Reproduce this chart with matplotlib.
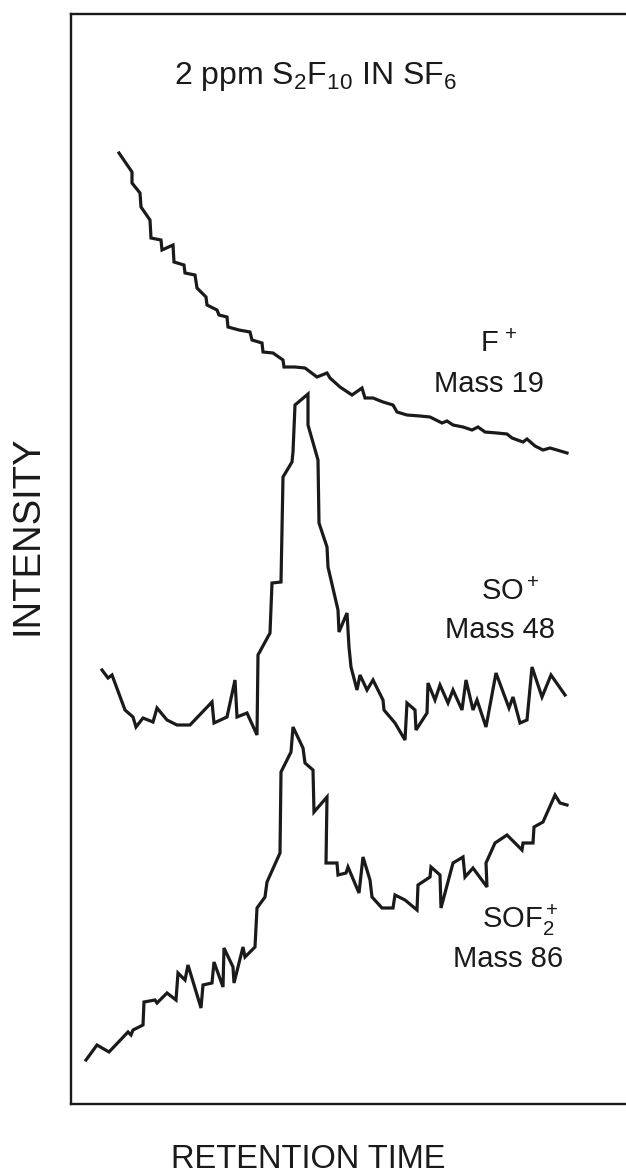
import matplotlib
matplotlib.use("Agg")
import matplotlib.pyplot as plt

plt.rcParams["font.family"] = ["Liberation Sans", "DejaVu Sans"]
plt.rcParams["mathtext.fontset"] = "custom"
plt.rcParams["mathtext.rm"] = "Liberation Sans"
plt.rcParams["mathtext.it"] = "Liberation Sans"
plt.rcParams["mathtext.bf"] = "Liberation Sans:bold"

# chromatogram traces, retention time vs. ion intensity (arbitrary units)
f19_time = [48, 61, 61, 69, 70, 79, 80, 90, 91, 102, 103, 113, 114, 124, 126, 135,
            136, 146, 148, 156, 157, 168, 179, 181, 191, 192, 202, 212, 213, 224,
            234, 246, 256, 259, 269, 281, 291, 294, 302, 312, 322, 326, 336, 349,
            359, 371, 376, 382, 392, 401, 407, 414, 426, 436, 441, 452, 456, 464,
            472, 479, 486, 496]
f19_signal = [951, 932, 921, 911, 897, 884, 866, 864, 854, 859, 842, 839, 831, 829,
              816, 807, 799, 794, 789, 787, 777, 774, 772, 764, 761, 752, 751, 744,
              737, 737, 736, 727, 731, 726, 717, 709, 716, 706, 706, 702, 699, 692,
              689, 688, 687, 681, 683, 679, 677, 674, 677, 672, 671, 670, 666, 662,
              665, 658, 654, 656, 654, 651]

so48_time = [31, 37, 41, 54, 62, 65, 72, 82, 86, 96, 106, 119, 141, 143, 156, 164,
             166, 176, 186, 187, 199, 201, 210, 212, 221, 222, 224, 237, 237, 247,
             248, 256, 257, 267, 268, 276, 278, 280, 286, 289, 296, 302, 312, 313,
             324, 334, 336, 344, 345, 356, 357, 364, 369, 377, 382, 391, 395, 402,
             406, 415, 425, 438, 442, 449, 456, 461, 471, 480, 494]
so48_signal = [434, 426, 429, 394, 387, 377, 386, 382, 396, 384, 379, 379, 402, 381,
               387, 424, 387, 391, 369, 449, 471, 521, 522, 627, 642, 652, 699, 710,
               679, 644, 581, 557, 537, 494, 472, 491, 457, 437, 414, 429, 414, 424,
               404, 394, 381, 364, 401, 394, 374, 391, 421, 404, 419, 401, 414, 394,
               424, 394, 404, 377, 431, 396, 407, 381, 384, 437, 407, 429, 409]

sof86_time = [15, 26, 38, 57, 60, 62, 72, 73, 84, 86, 96, 105, 107, 114, 117, 130,
              132, 141, 143, 152, 153, 162, 163, 172, 174, 184, 186, 194, 196, 209,
              210, 220, 222, 232, 234, 242, 243, 256, 255, 266, 267, 275, 277, 288,
              292, 299, 301, 311, 322, 324, 334, 346, 347, 359, 360, 369, 370, 382,
              392, 394, 402, 416, 415, 424, 436, 451, 452, 462, 463, 472, 484, 489,
              496]
sof86_signal = [44, 59, 52, 72, 69, 74, 79, 102, 104, 101, 111, 104, 131, 124, 139,
                96, 119, 121, 142, 117, 156, 137, 121, 157, 147, 157, 196, 207, 222,
                251, 332, 352, 377, 356, 341, 334, 292, 307, 241, 241, 229, 231, 237,
                211, 247, 224, 207, 196, 196, 209, 204, 194, 219, 227, 237, 229, 196,
                241, 247, 227, 236, 217, 241, 261, 269, 254, 261, 261, 277, 282, 309,
                301, 299]

W, H = 626, 1176
fig = plt.figure(figsize=(W / 100, H / 100), dpi=100)
fig.patch.set_facecolor("white")


def px(x, y):
    return x / W, 1 - y / H


ax = fig.add_axes([71 / W, (H - 1104) / H, (W - 71) / W, (1104 - 13.5) / H])
ink = "#1a1a1a"
for t, s in [(f19_time, f19_signal), (so48_time, so48_signal),
             (sof86_time, sof86_signal)]:
    ax.plot(t, s, color=ink, lw=2.3, solid_joinstyle="miter")

ax.set_xlim(0, 555)
ax.set_ylim(0, 1090.5)
ax.set_xticks([])
ax.set_yticks([])
for side in ["left", "top", "bottom"]:
    ax.spines[side].set_linewidth(1.7)
    ax.spines[side].set_color(ink)
ax.spines["right"].set_visible(False)

fig.text(*px(315, 84), "2 ppm S$_2$F$_{10}$ IN SF$_6$", fontsize=23,
         ha="center", va="baseline", color=ink)

labels = [
    (499, 352, "F$^{\\,+}$"), (489, 392, "Mass 19"),
    (510, 600, "SO$^+$"), (500, 638, "Mass 48"),
    (520, 928, "SOF$_2^+$"), (508, 967, "Mass 86"),
]
for x, y, s in labels:
    fig.text(*px(x, y), s, fontsize=21, ha="center", va="baseline", color=ink)

fig.text(*px(27.5, 535), "INTENSITY", fontsize=27.5, rotation=90,
         ha="center", va="center", color=ink)
fig.text(*px(308, 1168), "RETENTION TIME", fontsize=23.5,
         ha="center", va="baseline", color=ink)

fig.savefig("out.png", dpi=100)
